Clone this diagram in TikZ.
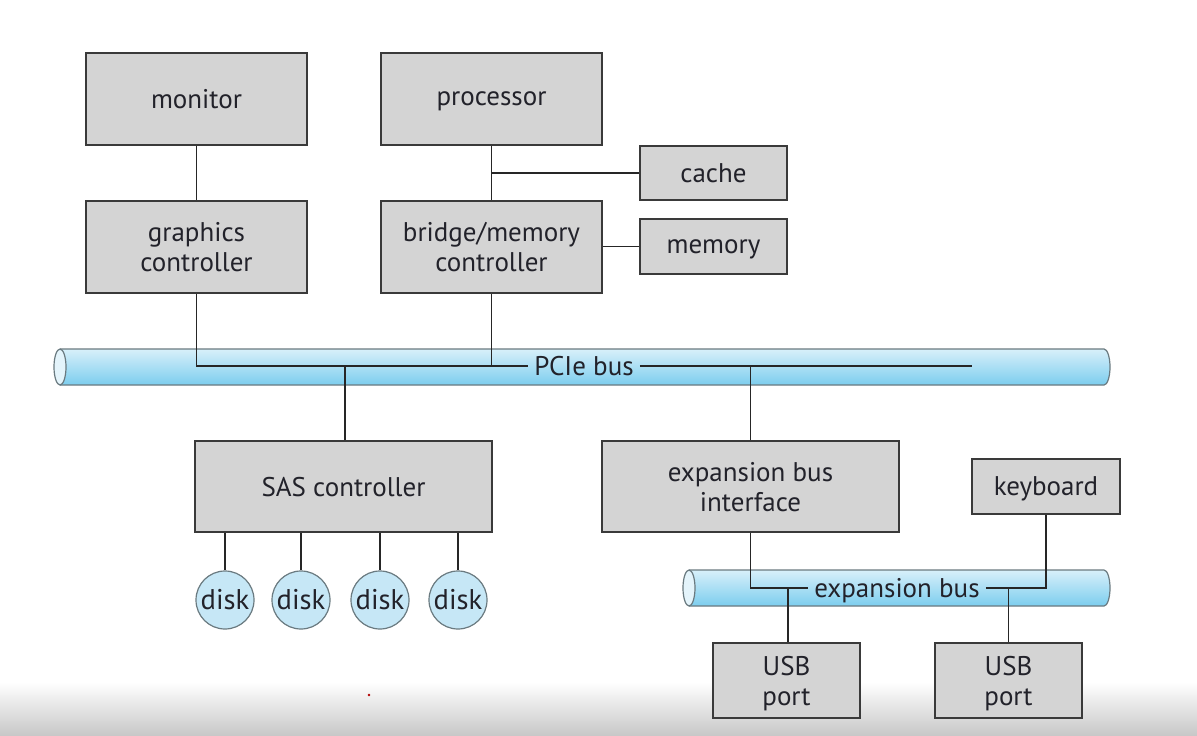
\documentclass[tikz,border=0pt]{standalone}
\usepackage{fontspec}
\setmainfont{PT Sans}
\usetikzlibrary{calc}
\definecolor{boxfill}{HTML}{D4D4D4}
\definecolor{boxline}{HTML}{3A3A3A}
\definecolor{txt}{HTML}{22222A}
\definecolor{tubetop}{HTML}{D8F0FA}
\definecolor{tubebot}{HTML}{7CCDEE}
\definecolor{tubeline}{HTML}{6A7A80}
\definecolor{diskfill}{HTML}{C6E7F6}
\tikzset{
  box/.style={draw=boxline, line width=1.5pt, fill=boxfill, inner sep=0pt, align=center,
    text=txt, font=\fontsize{27}{30}\selectfont, text depth=0pt},
  disknode/.style={draw=tubeline, line width=1.2pt, fill=diskfill, circle, minimum size=58pt,
    inner sep=0pt, text=txt, font=\fontsize{28.5}{30}\selectfont},
  conn/.style={draw=black!85, line width=1.7pt},
  buslabel/.style={inner sep=0pt, inner xsep=6pt, text=txt, font=\fontsize{27}{30}\selectfont, text depth=0pt},
}
\begin{document}
\begin{tikzpicture}[x=1pt,y=-1pt]
\useasboundingbox (0,0) rectangle (1197,736);
\fill[white] (0,0) rectangle (1197,736);
\shade[top color=white, bottom color=black!22] (0,682) rectangle (1197,736);

% PCIe tube
\shade[top color=tubetop, bottom color=tubebot] (60,349) -- (1104,349) arc[start angle=-90, end angle=90, x radius=6, y radius=18] -- (60,385) -- cycle;
\draw[tubeline, line width=1.2pt] (60,349) -- (1104,349) arc[start angle=-90, end angle=90, x radius=6, y radius=18] -- (60,385);
\draw[tubeline, line width=1.2pt, fill=tubetop!70] (60,367) ellipse[x radius=6, y radius=18];

% expansion tube
\shade[top color=tubetop, bottom color=tubebot] (689,570) -- (1104,570) arc[start angle=-90, end angle=90, x radius=6, y radius=18] -- (689,606) -- cycle;
\draw[tubeline, line width=1.2pt] (689,570) -- (1104,570) arc[start angle=-90, end angle=90, x radius=6, y radius=18] -- (689,606);
\draw[tubeline, line width=1.2pt, fill=tubetop!70] (689,588) ellipse[x radius=6, y radius=18];

% boxes
\node[box, minimum width=221pt, minimum height=92pt] (monitor) at (196.5,99) {monitor};
\node[box, minimum width=221pt, minimum height=92pt] (proc) at (491.5,99) {processor};
\node[box, minimum width=147pt, minimum height=54pt] (cache) at (713.5,173) {cache};
\node[box, minimum width=221pt, minimum height=92pt] (gfx) at (196.5,247) {graphics\\controller};
\node[box, minimum width=221pt, minimum height=92pt] (bridge) at (491.5,247) {bridge/memory\\controller};
\node[box, minimum width=147pt, minimum height=55pt] (mem) at (713.5,246.5) {memory};
\node[box, minimum width=297pt, minimum height=91pt] (sas) at (343.5,486.5) {SAS controller};
\node[box, minimum width=297pt, minimum height=91pt] (ebi) at (750.5,486.5) {expansion bus\\interface};
\node[box, minimum width=148pt, minimum height=55pt] (kbd) at (1046,486.5) {keyboard};
\node[box, minimum width=147pt, minimum height=75pt] (usba) at (786.5,680.5) {USB\\port};
\node[box, minimum width=147pt, minimum height=75pt] (usbb) at (1008.5,680.5) {USB\\port};

% disks
\node[disknode] (d1) at (225,600) {disk};
\node[disknode] (d2) at (301,600) {disk};
\node[disknode] (d3) at (380,600) {disk};
\node[disknode] (d4) at (458,600) {disk};

% bus labels
\node[buslabel] (pcie) at (584,366) {PCIe bus};
\node[buslabel] (ebus) at (897,588) {expansion bus};
\coordinate (pend) at (972,366);

% connectors
\draw[conn] (monitor.south) -- (gfx.north);
\draw[conn] (proc.south) -- (bridge.north);
\draw[conn] (proc.south |- cache.west) -- (cache.west);
\draw[conn] (bridge.east |- mem.west) -- (mem.west);
\draw[conn] (gfx.south) -- (gfx.south |- pcie.west) -- (pcie.west);
\draw[conn] (pcie.east) -- (pend);
\draw[conn] (bridge.south) -- (bridge.south |- pcie.west);
\draw[conn] ([xshift=1.5pt]sas.north) -- ([xshift=1.5pt]sas.north |- pcie.west);
\draw[conn] (ebi.north) -- (ebi.north |- pcie.west);
\draw[conn] (ebi.south) -- (ebi.south |- ebus.west) -- (ebus.west);
\draw[conn] (ebus.east) -- (kbd.south |- ebus.east) -- (kbd.south);
\draw[conn] ([xshift=1.5pt]usba.north) -- ([xshift=1.5pt]usba.north |- ebus.west);
\draw[conn] (usbb.north) -- (usbb.north |- ebus.east);
\foreach \d in {d1,d2,d3,d4}{
  \draw[conn, line width=1.3pt] (\d.north |- sas.south) -- (\d.north);
}
\fill[red!70!black] (369,695) circle[radius=1.3pt];
\end{tikzpicture}
\end{document}
